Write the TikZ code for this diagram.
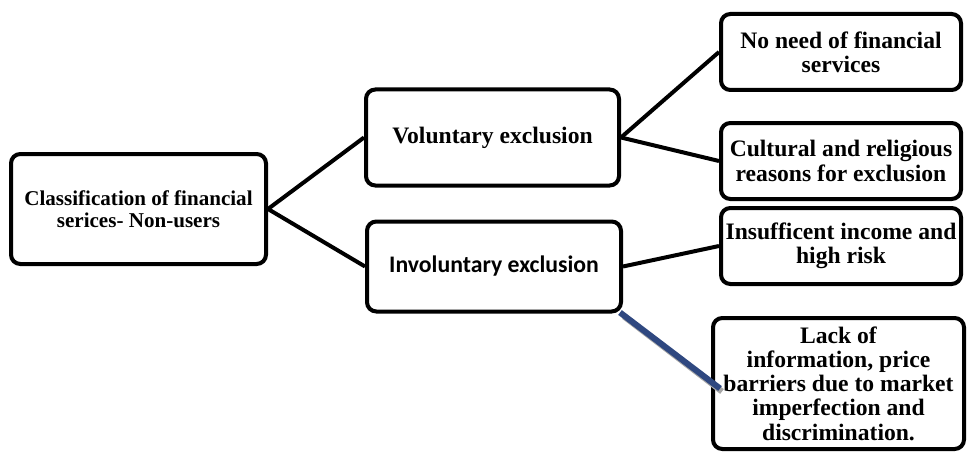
\documentclass[tikz,border=0pt]{standalone}
\usepackage{fontspec}
\setmainfont{Liberation Serif}
\newfontfamily\calib{Carlito}
\begin{document}
\begin{tikzpicture}[x=0.75pt,y=-0.75pt,
  box/.style={draw=black,line width=3pt,rounded corners=7pt,align=center,inner sep=0pt,
    font=\bfseries\fontsize{17.7}{18.2}\selectfont},
  conn/.style={line width=3pt,black},
  blueconn/.style={line width=4.5pt,color={rgb,255:red,47;green,72;blue,128}},
  shadowconn/.style={line width=4.5pt,color=black!35}]
\useasboundingbox (0,0) rectangle (967,453);
\node[box,minimum width={255*0.75pt},minimum height={110*0.75pt},font=\bfseries\fontsize{15.8}{16.8}\selectfont] (root) at (138.5,209) {Classification of financial\\serices- Non-users};
\node[box,minimum width={253*0.75pt},minimum height={96*0.75pt}] (vol) at (492.5,137.5) {Voluntary exclusion};
\node[box,minimum width={254*0.75pt},minimum height={90*0.75pt},font=\calib\bfseries\fontsize{17.8}{20}\selectfont] (inv) at (494,266.5) {Involuntary exclusion};
\node[box,minimum width={240*0.75pt},minimum height={76*0.75pt}] (nn) at (841,52) {No need of financial\\services};
\node[box,minimum width={240*0.75pt},minimum height={76*0.75pt}] (cr) at (841,161) {Cultural and religious\\reasons for exclusion};
\node[box,minimum width={240*0.75pt},minimum height={76*0.75pt}] (ii) at (841,246) {Insufficent income and\\high risk};
\node[box,minimum width={251*0.75pt},minimum height={131*0.75pt}] (lk) at (838.5,383.5) {Lack of\\information, price\\barriers due to market\\imperfection and\\discrimination.};
\draw[conn] (root.east) -- (vol.west);
\draw[conn] (root.east) -- (inv.west);
\draw[conn] (vol.east) -- (nn.west);
\draw[conn] (vol.east) -- (cr.west);
\draw[conn] (inv.east) -- (ii.west);
\draw[shadowconn] ([shift={(1,3)}]inv.south east) -- ([shift={(11,8)}]lk.west);
\draw[blueconn] ([shift={(-3,-1)}]inv.south east) -- ([shift={(9,5)}]lk.west);
\end{tikzpicture}
\end{document}
